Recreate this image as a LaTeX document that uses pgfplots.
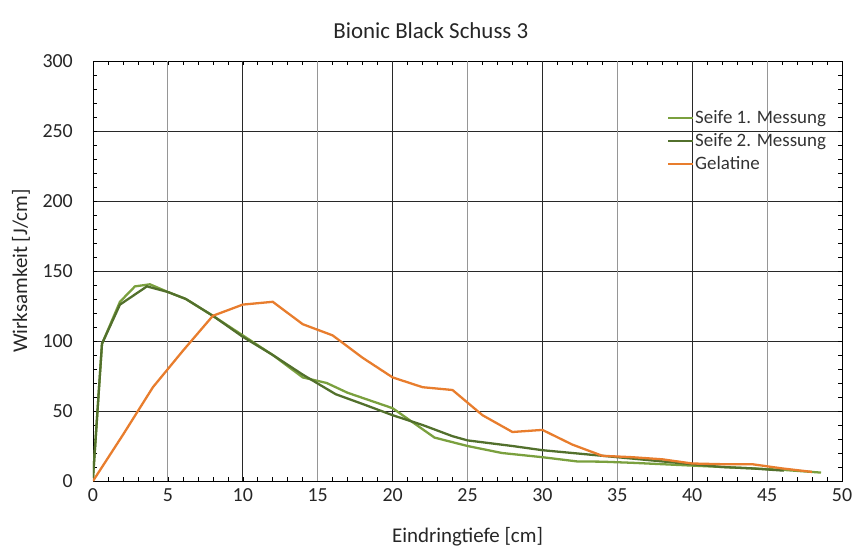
\documentclass[border=0pt]{standalone}
\usepackage{fontspec}
\setmainfont{Carlito}
\usepackage{pgfplots}
\pgfplotsset{compat=1.18}
\definecolor{seifeA}{RGB}{122,160,62}
\definecolor{seifeB}{RGB}{82,112,44}
\definecolor{gel}{RGB}{232,125,45}
\definecolor{gridd}{RGB}{40,40,40}
\definecolor{gridl}{RGB}{150,150,150}
\begin{document}
\begin{tikzpicture}[x=1bp,y=1bp]
\useasboundingbox (-93bp,-68bp) rectangle (762bp,481bp);
\begin{axis}[
  scale only axis, width=749bp, height=420bp,
  xmin=0, xmax=50, ymin=0, ymax=300,
  xtick={0,5,...,50}, ytick={0,50,...,300},
  minor xtick={1,2,...,49}, minor ytick={10,20,...,290},
  tick align=inside,
  major tick length=0pt, minor tick length=4bp,
  every tick/.style={black, line width=0.6pt},
  axis line style={black, line width=0.8pt},
  /pgf/number format/assume math mode=true,
  tick label style={font=\fontsize{20}{22}\selectfont, text=black!85},
  xticklabel style={inner sep=0pt, anchor=center, yshift=-14bp},
  yticklabel style={inner sep=0pt, anchor=east, xshift=-20bp},
  ymajorgrids=true,
  major grid style={gridd, line width=0.7pt},
  xlabel={Eindringtiefe [cm]},
  ylabel={Wirksamkeit [J/cm]},
  xlabel style={font=\fontsize{21}{23}\selectfont, text=black!85,
    at={(axis description cs:0.5,-0.1333)}, anchor=center},
  ylabel style={font=\fontsize{21}{23}\selectfont, text=black!85,
    at={(axis description cs:-0.0961,0.5)}, anchor=center},
  title={Bionic Black Schuss 3},
  title style={font=\fontsize{23}{25}\selectfont, text=black!85,
    at={(axis description cs:0.451,1.057)}, anchor=center},
  legend style={draw=none, fill=none, inner sep=0pt,
    at={(0.766,0.888)}, anchor=north west,
    font=\fontsize{19}{21}\selectfont, text=black!80, row sep=3bp,
    nodes={inner sep=1bp, text height=14bp, text depth=4bp},
    /tikz/every even column/.append style={column sep=0bp}},
  legend cell align=left,
  legend image code/.code={\draw[#1] (0bp,0bp) -- (25bp,0bp);},
]
\addplot[gridl, line width=0.9pt, forget plot] coordinates {(5,0) (5,300)};
\addplot[gridd, line width=0.7pt, forget plot] coordinates {(10,0) (10,300)};
\addplot[gridl, line width=0.9pt, forget plot] coordinates {(15,0) (15,300)};
\addplot[gridd, line width=0.7pt, forget plot] coordinates {(20,0) (20,300)};
\addplot[gridl, line width=0.9pt, forget plot] coordinates {(25,0) (25,300)};
\addplot[gridd, line width=0.7pt, forget plot] coordinates {(30,0) (30,300)};
\addplot[gridl, line width=0.9pt, forget plot] coordinates {(35,0) (35,300)};
\addplot[gridd, line width=0.7pt, forget plot] coordinates {(40,0) (40,300)};
\addplot[gridl, line width=0.9pt, forget plot] coordinates {(45,0) (45,300)};

\addplot[seifeA, line width=2.3pt] coordinates {
(0,2) (0.6,98) (1.8,128) (2.8,139) (3.8,140.5) (5,135) (6.2,130) (8,118)
(10,104) (12,90) (14,74) (15.6,70) (17,63) (20,52) (22.8,31) (25,25)
(27.3,20) (30,17) (32.3,14) (34,13.8) (36,13) (38,12) (40,11) (42,10)
(44,9) (46,8) (48.6,6)};
\addlegendentry{Seife 1. Messung}
\addplot[seifeB, line width=2.3pt] coordinates {
(0,2) (0.6,98) (1.8,126) (3.6,139) (5,135) (6.2,130) (8,118) (10,103)
(12,90) (14,76) (16.2,62) (18,55) (20,47) (22,40) (24,32) (25,29)
(28,25) (30,22) (32,20) (34,18) (36,16) (38,14) (40,12) (42,10) (44,9)
(46.1,7.4)};
\addlegendentry{Seife 2. Messung}
\addplot[gel, line width=2.3pt] coordinates {
(0,0) (2,33) (4,67) (6,93) (8,118) (10,126) (12,128) (14,112) (16,104)
(18,88) (20,74) (22,67) (24,65) (26,47) (28,35) (30,36.5) (32,26) (34,18)
(36,17) (38,15.5) (40,12.5) (42,12) (44,12) (46,9) (48,6.5)};
\addlegendentry{Gelatine}
\end{axis}
\end{tikzpicture}
\end{document}
